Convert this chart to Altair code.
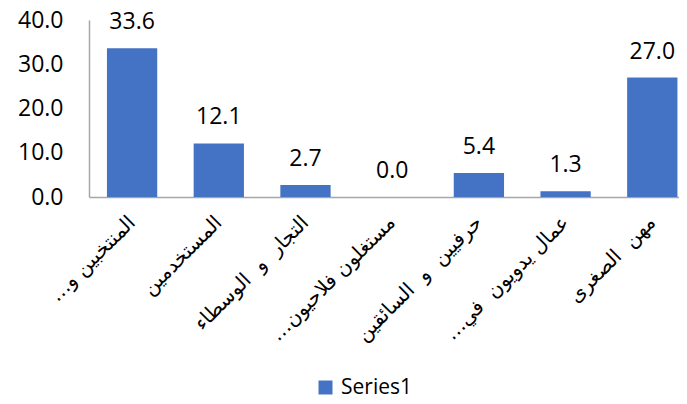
import altair as alt
import pandas as pd

RLM = "\u200f"
SP = " \u00a0"
categories = [
    "المنتخبين و…" + RLM,
    "المستخدمين",
    "التجار" + SP + "و" + SP + "الوسطاء",
    "مستغلون فلاحيون…" + RLM,
    "حرفيين" + SP + "و" + SP + "السائقين",
    "عمال يدويون" + SP + "في…" + RLM,
    "مهن" + SP + "الصغرى",
]
values = [33.6, 12.1, 2.7, 0.0, 5.4, 1.3, 27.0]
series = ["Series1"] * len(categories)
y_ticks = [0, 10, 20, 30, 40]

df = pd.DataFrame({"category": categories, "value": values, "series": series})

base = alt.Chart(df).encode(
    x=alt.X(
        "category:N",
        sort=categories,
        title=None,
        scale=alt.Scale(paddingInner=0.42, paddingOuter=0.1125, align=0.92),
        axis=alt.Axis(
            labelAngle=-45,
            labelAlign="right",
            labelBaseline="middle",
            labelFont="DejaVu Sans",
            labelFontSize=20,
            labelColor="#000000",
            labelPadding=22,
            ticks=False,
            domainColor="#A6A6A6",
            domainWidth=1.5,
            labelOverlap=False,
            labelLimit=300,
        ),
    ),
    y=alt.Y(
        "value:Q",
        title=None,
        scale=alt.Scale(domain=[0, 40], nice=False),
        axis=alt.Axis(
            values=y_ticks,
            format=".1f",
            grid=False,
            ticks=False,
            labelFont="Open Sans",
            labelFontSize=23,
            labelColor="#000000",
            labelPadding=26,
            domainColor="#A6A6A6",
            domainWidth=1.5,
        ),
    ),
)

bars = base.mark_bar().encode(
    color=alt.Color(
        "series:N",
        title=None,
        scale=alt.Scale(range=["#4472C4"]),
        legend=alt.Legend(
            orient="none",
            legendX=226,
            legendY=357,
            symbolType="square",
            symbolSize=196,
            symbolStrokeWidth=0,
            labelFont="Open Sans",
            labelFontSize=21,
            labelColor="#000000",
            labelOffset=5,
            padding=0,
        ),
    )
)

text = base.mark_text(
    baseline="bottom", dy=-14, font="Open Sans", fontSize=23, color="#000000"
).encode(text=alt.Text("value:Q", format=".1f"))

chart = (
    (bars + text)
    .properties(
        width=590,
        height=177,
        autosize=alt.AutoSizeParams(type="none"),
        padding={"left": 81, "top": 12, "right": 0, "bottom": 199},
    )
    .configure_view(stroke=None)
)

chart.save("out.html", embed_options={"renderer": "svg", "actions": False})
